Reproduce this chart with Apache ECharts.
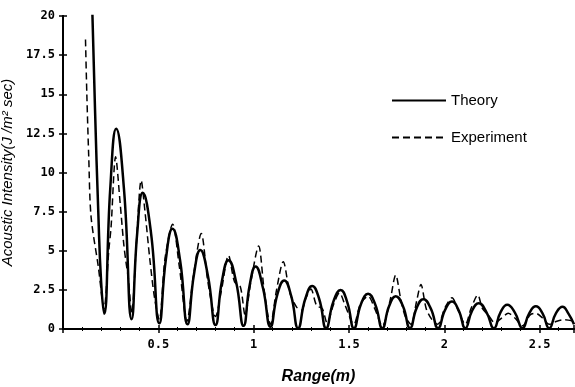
<!DOCTYPE html>
<html>
<head>
<meta charset="utf-8">
<script src="https://cdn.jsdelivr.net/npm/echarts@6/dist/echarts.min.js"></script>
<style>
  html, body { margin: 0; padding: 0; background: #fff; }
  #chart { width: 575px; height: 387px; }
</style>
</head>
<body>
<div id="chart"></div>
<script>
// values
const seriesNames = ['Theory', 'Experiment']
const yTicks = [0, 2.5, 5, 7.5, 10, 12.5, 15, 17.5, 20]
const xTicks = [0.5, 1, 1.5, 2, 2.5]

const theoryRange = [0.150, 0.168, 0.185, 0.200, 0.216, 0.248, 0.279, 0.320, 0.360, 0.389, 0.418, 0.462, 0.505, 0.540, 0.574, 0.614, 0.653, 0.687, 0.720, 0.760, 0.800, 0.834, 0.868, 0.908, 0.947, 0.979, 1.010, 1.049, 1.088, 1.124, 1.160, 1.197, 1.233, 1.270, 1.307, 1.344, 1.380, 1.418, 1.456, 1.491, 1.526, 1.563, 1.600, 1.638, 1.675, 1.710, 1.745, 1.783, 1.820, 1.855, 1.890, 1.929, 1.967, 2.004, 2.040, 2.075, 2.110, 2.145, 2.180, 2.220, 2.260, 2.295, 2.330, 2.370, 2.410, 2.445, 2.480, 2.515, 2.550, 2.585, 2.620, 2.650, 2.680]
const theoryIntensity = [22, 14, 7.5, 3, 0.97, 9.0, 12.8, 8.9, 0.62, 6.1, 8.7, 6.1, 0.36, 4.5, 6.4, 4.4, 0.3, 3.5, 5.05, 3.4, 0.25, 3.1, 4.4, 3.0, 0.2, 2.8, 4.0, 2.6, 0.15, 2.2, 3.1, 2.1, 0.05, 1.9, 2.75, 1.9, 0.05, 1.75, 2.5, 1.7, 0.05, 1.6, 2.25, 1.55, 0.05, 1.45, 2.1, 1.45, 0.05, 1.35, 1.9, 1.3, 0.05, 1.22, 1.75, 1.2, 0.05, 1.15, 1.65, 1.1, 0.05, 1.08, 1.55, 1.05, 0.05, 1.0, 1.45, 1.0, 0.05, 1.0, 1.42, 1.0, 0.3]

const expRange = [0.118, 0.125, 0.135, 0.147, 0.185, 0.215, 0.240, 0.252, 0.276, 0.300, 0.318, 0.330, 0.343, 0.360, 0.385, 0.410, 0.430, 0.455, 0.480, 0.505, 0.535, 0.575, 0.610, 0.650, 0.685, 0.725, 0.760, 0.800, 0.830, 0.868, 0.900, 0.930, 0.955, 0.985, 1.026, 1.055, 1.088, 1.120, 1.155, 1.190, 1.225, 1.250, 1.275, 1.300, 1.330, 1.360, 1.385, 1.420, 1.450, 1.480, 1.525, 1.560, 1.600, 1.635, 1.675, 1.715, 1.745, 1.770, 1.795, 1.825, 1.855, 1.877, 1.905, 1.935, 1.965, 2.005, 2.040, 2.075, 2.110, 2.140, 2.175, 2.200, 2.230, 2.265, 2.300, 2.335, 2.370, 2.410, 2.450, 2.480, 2.515, 2.550, 2.590, 2.630, 2.680]
const expIntensity = [18.5, 15, 11, 7.2, 4.0, 1.3, 5.0, 6.5, 11.0, 8.0, 5.5, 4.3, 3.2, 1.0, 5.5, 9.5, 7.5, 4.5, 2.0, 0.6, 4.5, 6.7, 4.0, 0.5, 3.5, 6.1, 3.0, 0.8, 2.4, 4.7, 3.0, 2.7, 0.9, 3.0, 5.3, 2.5, 0.3, 2.5, 4.3, 2.3, 1.4, 1.2, 2.0, 2.55, 1.5, 1.3, 0.4, 1.6, 2.3, 1.5, 0.3, 1.6, 2.1, 1.3, 0.2, 1.8, 3.45, 2.0, 0.8, 0.3, 1.8, 2.85, 1.3, 0.6, 0.3, 1.4, 2.0, 1.1, 0.3, 1.3, 2.17, 1.3, 0.9, 0.4, 0.7, 1.0, 0.7, 0.2, 0.9, 1.0, 0.7, 0.3, 0.5, 0.6, 0.5]

const pairs = (xs, ys) => xs.map((x, i) => [x, ys[i]])

const tickFont = {
  color: '#000',
  fontFamily: 'DejaVu Sans Mono',
  fontWeight: 'bold',
  fontSize: 12
}

const chart = echarts.init(document.getElementById('chart'))
chart.setOption({
  animation: false,
  backgroundColor: '#fff',
  grid: {
    left: 63,
    right: 1,
    top: 16,
    bottom: 58,
    containLabel: false,
    outerBoundsMode: 'none'
  },
  legend: {
    data: seriesNames,
    orient: 'vertical',
    left: 386,
    top: 88,
    itemWidth: 54,
    itemHeight: 16,
    itemGap: 22,
    itemStyle: { opacity: 0 },
    textStyle: {
      color: '#000',
      fontFamily: 'Liberation Sans',
      fontSize: 15
    }
  },
  xAxis: [{
    type: 'value',
    min: 0,
    max: 2.68,
    interval: 0.5,
    name: 'Range(m)',
    nameLocation: 'middle',
    nameGap: 40,
    nameTextStyle: {
      color: '#000',
      fontFamily: 'Liberation Sans',
      fontStyle: 'italic',
      fontWeight: 'bold',
      fontSize: 16
    },
    axisLine: { lineStyle: { color: '#000', width: 2 } },
    axisTick: { inside: true, length: 4, lineStyle: { color: '#000', width: 1.5 } },
    minorTick: { show: true, splitNumber: 5, length: 2, lineStyle: { color: '#000' } },
    splitLine: { show: false },
    axisLabel: Object.assign({
      margin: 10,
      formatter: v => (xTicks.includes(Math.round(v * 10) / 10) ? String(v) : '')
    }, tickFont)
  }, {
    type: 'value',
    position: 'top',
    min: 0,
    max: 2.68,
    interval: 0.5,
    axisLine: { lineStyle: { color: '#000', width: 2 } },
    axisTick: { inside: true, length: 4, lineStyle: { color: '#000', width: 1.5 } },
    minorTick: { show: true, splitNumber: 5, length: 2, lineStyle: { color: '#000' } },
    splitLine: { show: false },
    axisLabel: { show: false }
  }],
  yAxis: [{
    type: 'value',
    min: 0,
    max: 20,
    interval: 2.5,
    name: 'Acoustic Intensity(J /m² sec)',
    nameLocation: 'middle',
    nameRotate: 90,
    nameGap: 38,
    nameTextStyle: {
      color: '#000',
      fontFamily: 'Liberation Sans',
      fontStyle: 'italic',
      fontSize: 15
    },
    axisLine: { show: true, lineStyle: { color: '#000', width: 2 } },
    axisTick: { show: true, inside: true, length: 4, lineStyle: { color: '#000', width: 1.5 } },
    splitLine: { show: false },
    axisLabel: Object.assign({
      margin: 8,
      formatter: v => (yTicks.includes(v) ? String(v) : '')
    }, tickFont)
  }, {
    type: 'value',
    position: 'right',
    min: 0,
    max: 20,
    interval: 2.5,
    axisLine: { show: true, lineStyle: { color: '#000', width: 2 } },
    axisTick: { show: true, inside: true, length: 4, lineStyle: { color: '#000', width: 1.5 } },
    splitLine: { show: false },
    axisLabel: { show: false }
  }],
  series: [{
    name: seriesNames[0],
    type: 'line',
    data: pairs(theoryRange, theoryIntensity),
    smooth: 0.5,
    symbol: 'none',
    clip: true,
    color: '#000',
    lineStyle: { color: '#000', width: 2.5 }
  }, {
    name: seriesNames[1],
    type: 'line',
    data: pairs(expRange, expIntensity),
    smooth: 0.3,
    symbol: 'none',
    clip: true,
    color: '#000',
    lineStyle: { color: '#000', width: 1.5, type: [7, 4] }
  }]
})
</script>
</body>
</html>
